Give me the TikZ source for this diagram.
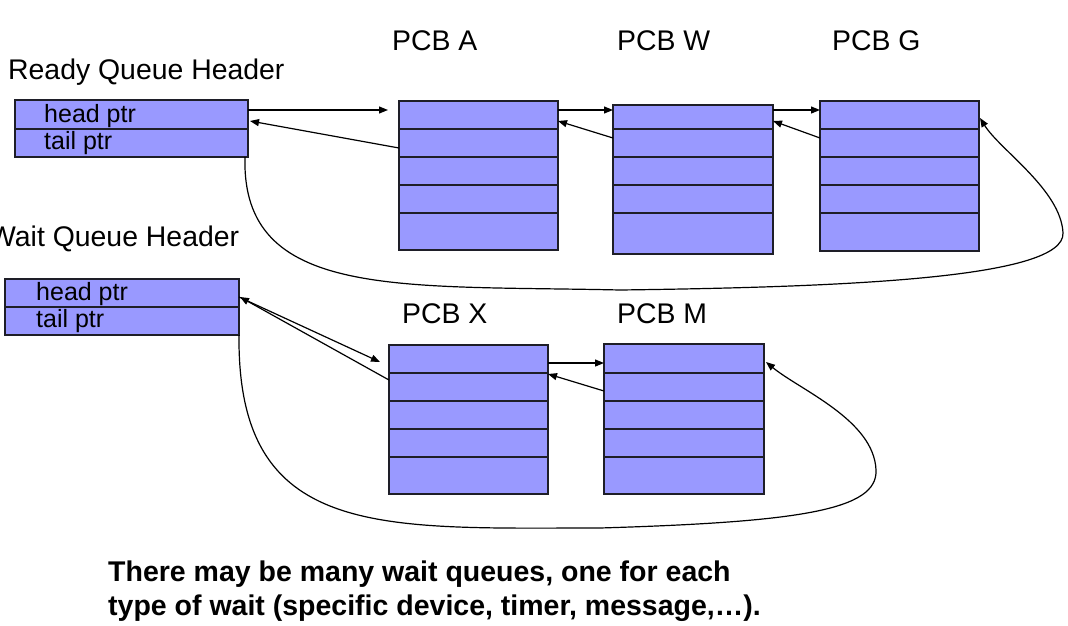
\documentclass[tikz,border=0pt]{standalone}
\usepackage{fontspec}
\setmainfont{Liberation Sans}
\usetikzlibrary{arrows.meta}
\definecolor{cellblue}{RGB}{153,153,255}
\definecolor{cellline}{RGB}{30,30,40}
\begin{document}
\begin{tikzpicture}[x=1pt,y=-1pt,
  cell/.style={draw=cellline, line width=1.4pt, fill=cellblue, inner sep=0pt, outer sep=0pt, anchor=north west},
  big/.style={inner sep=0pt, anchor=base west, font=\fontsize{28.4}{34}\selectfont},
  small/.style={inner sep=0pt, anchor=base west, font=\fontsize{25}{29}\selectfont},
  note/.style={inner sep=0pt, anchor=base west, font=\fontsize{28.5}{34}\selectfont\bfseries},
  ptr/.style={line width=1.2pt, -{Triangle[length=9pt,width=7pt]}},
  link/.style={line width=1.2pt}
]
\useasboundingbox (0,0) rectangle (1068,626);

% Ready queue header
\node[cell, minimum width=233pt, minimum height=29pt] (RH1) at (15,100) {};
\node[cell, minimum width=233pt, minimum height=28pt] (RH2) at (15,129) {};
\node[small] (rhh) at (44,122) {head ptr};
\node[small] (rht) at (44,149) {tail ptr};
\node[big] (rq) at (8,79) {Ready Queue Header};

% PCB A
\node[cell, minimum width=159pt, minimum height=28pt] (A1) at (399,101) {};
\node[cell, minimum width=159pt, minimum height=28pt] (A2) at (399,129) {};
\node[cell, minimum width=159pt, minimum height=28pt] (A3) at (399,157) {};
\node[cell, minimum width=159pt, minimum height=28pt] (A4) at (399,185) {};
\node[cell, minimum width=159pt, minimum height=37pt] (A5) at (399,213) {};
\node[big] (la) at (392,51) {PCB A};

% PCB W
\node[cell, minimum width=160pt, minimum height=24pt] (W1) at (613,105) {};
\node[cell, minimum width=160pt, minimum height=28pt] (W2) at (613,129) {};
\node[cell, minimum width=160pt, minimum height=28pt] (W3) at (613,157) {};
\node[cell, minimum width=160pt, minimum height=28pt] (W4) at (613,185) {};
\node[cell, minimum width=160pt, minimum height=41pt] (W5) at (613,213) {};
\node[big] (lw) at (617,51) {PCB W};

% PCB G
\node[cell, minimum width=159pt, minimum height=28pt] (G1) at (820,101) {};
\node[cell, minimum width=159pt, minimum height=28pt] (G2) at (820,129) {};
\node[cell, minimum width=159pt, minimum height=28pt] (G3) at (820,157) {};
\node[cell, minimum width=159pt, minimum height=28pt] (G4) at (820,185) {};
\node[cell, minimum width=159pt, minimum height=38pt] (G5) at (820,213) {};
\node[big] (lg) at (832,51) {PCB G};

% Wait queue header
\node[cell, minimum width=234pt, minimum height=28pt] (WH1) at (5,279) {};
\node[cell, minimum width=234pt, minimum height=28pt] (WH2) at (5,307) {};
\node[small] (whh) at (36,300) {head ptr};
\node[small] (wht) at (36,327) {tail ptr};
\node[big] (wq) at (-11,246) {Wait Queue Header};

% PCB X
\node[cell, minimum width=159pt, minimum height=28pt] (X1) at (389,345) {};
\node[cell, minimum width=159pt, minimum height=28pt] (X2) at (389,373) {};
\node[cell, minimum width=159pt, minimum height=28pt] (X3) at (389,401) {};
\node[cell, minimum width=159pt, minimum height=28pt] (X4) at (389,429) {};
\node[cell, minimum width=159pt, minimum height=37pt] (X5) at (389,457) {};
\node[big] (lx) at (402,323) {PCB X};

% PCB M
\node[cell, minimum width=160pt, minimum height=29pt] (M1) at (604,344) {};
\node[cell, minimum width=160pt, minimum height=28pt] (M2) at (604,373) {};
\node[cell, minimum width=160pt, minimum height=28pt] (M3) at (604,401) {};
\node[cell, minimum width=160pt, minimum height=28pt] (M4) at (604,429) {};
\node[cell, minimum width=160pt, minimum height=37pt] (M5) at (604,457) {};
\node[big] (lm) at (617,323) {PCB M};

% Ready queue links
\draw[ptr] ([yshift=4.5pt]RH1.east) -- ([xshift=-11pt,yshift=5pt]A1.west);
\draw[ptr] ([yshift=-5pt]A2.west) -- ([xshift=2pt,yshift=-6.5pt]RH1.east);
\draw[ptr] ([yshift=5pt]A1.east) -- ([yshift=7pt]W1.west);
\draw[ptr] ([yshift=5pt]W2.west) -- ([yshift=-6pt]A1.east);
\draw[ptr] ([yshift=7pt]W1.east) -- ([yshift=5pt]G1.west);
\draw[ptr] ([yshift=5pt]G2.west) -- ([yshift=-4pt]W1.east);
\draw[ptr] ([xshift=-3pt]RH2.south east)
  .. controls (241,300) and (400,285) .. (620,290)
  .. controls (850,287) and (1065,278) .. (1063,233)
  .. controls (1061,190) and (1000,150) .. ([xshift=1pt,yshift=-3pt]G1.east);

% Wait queue links
\draw[ptr] ([yshift=-4pt]WH1.east) -- ([xshift=-9pt,yshift=-3pt]X1.west);
\draw[ptr] ([yshift=7pt]X2.west) -- ([xshift=1pt,yshift=-4pt]WH1.east);
\draw[ptr] ([yshift=-4pt]X1.east) -- ([yshift=-4.5pt]M1.west);
\draw[ptr] ([yshift=-4pt]M2.west) -- ([yshift=13pt]X2.east);
\draw[ptr] (WH2.south east)
  .. controls (237,540) and (380,528) .. (600,528)
  .. controls (800,522) and (878,510) .. (876,470)
  .. controls (874,420) and (800,390) .. ([xshift=2pt,yshift=-3.5pt]M1.east);

% Note
\node[note] (n1) at (108,581) {There may be many wait queues, one for each};
\node[note] (n2) at (108,615) {type of wait (specific device, timer, message,…).};
\end{tikzpicture}
\end{document}
